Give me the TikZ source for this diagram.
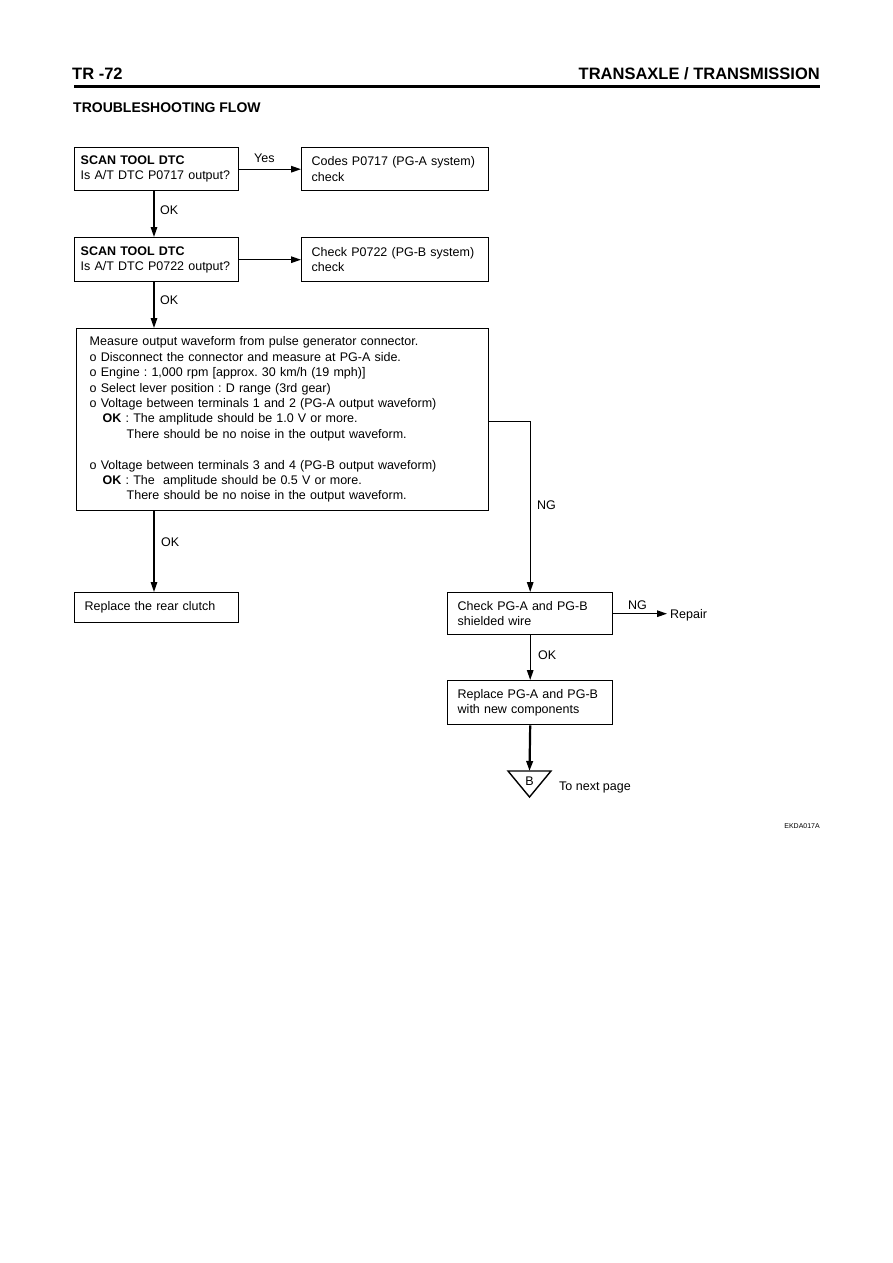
\documentclass[tikz,border=0pt]{standalone}
\usepackage{fontspec}
\setmainfont{Liberation Sans}
\usetikzlibrary{arrows.meta,calc}
\newcommand{\bodyfont}{\fontsize{12.5}{15.4}\selectfont\frenchspacing}
\begin{document}
\begin{tikzpicture}[x=1pt,y=-1pt,
  box/.style={draw, line width=1.4pt, rectangle, anchor=north west, align=left, inner ysep=0pt, font=\bodyfont},
  arr/.style={line width=1.4pt, -{Triangle[length=10pt,width=6.5pt]}},
  lbl/.style={anchor=base west, inner sep=0pt, font=\bodyfont},
  hdr/.style={anchor=base west, inner sep=0pt, font=\fontsize{16.5}{18}\selectfont\bfseries}]
\useasboundingbox[fill=white] (0,0) rectangle (893,1263);

% header
\node[hdr] (pg) at (72,79) {TR -72};
\node[hdr, anchor=base east] (ttl) at (820,79) {TRANSAXLE / TRANSMISSION};
\draw[line width=3pt] (74,86) -- (820,86);
\node[anchor=base west, inner sep=0pt, font=\fontsize{14}{16}\selectfont\bfseries] (tf) at (73,112) {TROUBLESHOOTING FLOW};

% boxes
\node[box, minimum width=164pt, minimum height=43pt, text width=152pt, inner xsep=6pt] (b1) at (74,147)
  {\textbf{SCAN TOOL DTC}\\Is A/T DTC P0717 output?};
\node[box, minimum width=187pt, minimum height=43pt, text width=167pt, inner xsep=10pt] (b2) at (301,147)
  {Codes P0717 (PG-A system)\\check};
\node[box, minimum width=164pt, minimum height=44pt, text width=152pt, inner xsep=6pt] (b3) at (74,237)
  {\textbf{SCAN TOOL DTC}\\Is A/T DTC P0722 output?};
\node[box, minimum width=187pt, minimum height=44pt, text width=167pt, inner xsep=10pt] (b4) at (301,237)
  {Check P0722 (PG-B system)\\check};
\node[box, minimum width=412pt, minimum height=182pt, text width=386pt, inner xsep=13pt] (big) at (76,328)
  {Measure output waveform from pulse generator connector.\\
   o Disconnect the connector and measure at PG-A side.\\
   o Engine : 1,000 rpm [approx. 30 km/h (19 mph)]\\
   o Select lever position : D range (3rd gear)\\
   o Voltage between terminals 1 and 2 (PG-A output waveform)\\
   \hspace*{13pt}\textbf{OK} : The amplitude should be 1.0 V or more.\\
   \hspace*{37pt}There should be no noise in the output waveform.\\[15.4pt]
   o Voltage between terminals 3 and 4 (PG-B output waveform)\\
   \hspace*{13pt}\textbf{OK} : The~ amplitude should be 0.5 V or more.\\
   \hspace*{37pt}There should be no noise in the output waveform.};
\node[box, minimum width=164pt, minimum height=30pt, text width=144pt, inner xsep=10pt] (clutch) at (74,592)
  {Replace the rear clutch};
\node[box, minimum width=165pt, minimum height=42pt, text width=145pt, inner xsep=10pt] (chk) at (447,592)
  {Check PG-A and PG-B\\shielded wire};
\node[box, minimum width=165pt, minimum height=44pt, text width=145pt, inner xsep=10pt] (rep) at (447,680)
  {Replace PG-A and PG-B\\with new components};
\node[anchor=west, inner sep=3pt, font=\bodyfont] (repair) at (667,615) {Repair};

% off-page connector
\coordinate (tri) at (529.5,771);
\draw[line width=1.4pt, line join=miter] (508,771) -- (551,771) -- (529.5,797) -- cycle;
\node[font=\bodyfont, inner sep=0pt] (bl) at (529.5,781.5) {B};
\node[lbl] (np) at (559,790) {To next page};

% connectors
\draw[arr] (b1.east) -- (b2.west);
\node[lbl] (yes) at (254,162) {Yes};
\draw[arr] (b3.east) -- (b4.west);
\draw[arr] ([xshift=80pt]b1.south west) -- ([xshift=80pt]b3.north west);
\node[lbl] (ok1) at (160,214) {OK};
\draw[arr] ([xshift=80pt]b3.south west) -- ([xshift=80pt]b3.south west |- big.north);
\node[lbl] (ok2) at (160,304) {OK};
\draw[arr] ([xshift=78pt]big.south west) -- ([xshift=78pt]big.south west |- clutch.north);
\node[lbl] (ok3) at (161,546) {OK};
\draw[arr] ([yshift=-2pt]big.east) -| (chk.north);
\node[lbl] (ng1) at (537,509) {NG};
\draw[arr] (chk.east) -- (chk.east -| repair.west);
\node[lbl] (ng2) at (628,609) {NG};
\draw[arr] (chk.south) -- (rep.north);
\node[lbl] (ok4) at (538,659) {OK};
\draw[line width=2.2pt, -{Triangle[length=10pt,width=6.5pt]}] (rep.south) -- (tri);

\node[anchor=base east, inner sep=0pt, font=\fontsize{7}{8}\selectfont] (code) at (820,828) {EKDA017A};
\end{tikzpicture}
\end{document}
